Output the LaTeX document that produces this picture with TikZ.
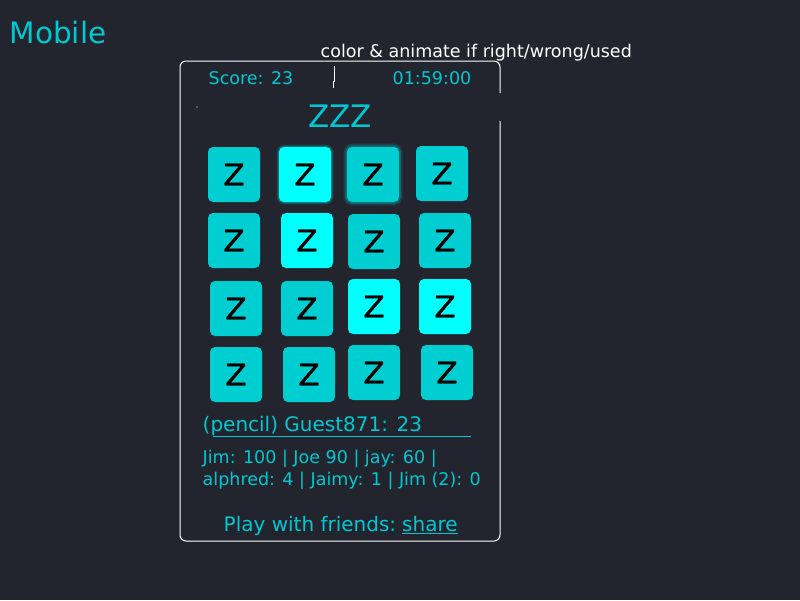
\documentclass[tikz,border=0pt]{standalone}
\usepackage{fontspec}
\setmainfont{DejaVu Sans}
\newfontfamily\tilefont[FakeBold=1,FakeStretch=1.06]{DejaVu Sans}
\definecolor{bgC}{HTML}{23252E}
\definecolor{txtC}{HTML}{00C8D2}
\definecolor{tileC}{HTML}{00CED1}
\definecolor{litC}{HTML}{00FFFF}
\definecolor{glowC}{HTML}{0A8F96}
\begin{document}
\begin{tikzpicture}[
  x=1pt,y=-1pt,
  tile/.style={rounded corners=5pt,fill=tileC,minimum width=52pt,minimum height=55pt,inner sep=0pt,text=black,font=\tilefont\fontsize{29.5}{30}\selectfont},
  lit/.style={tile,fill=litC},
  glow/.style={preaction={draw=#1,line width=7pt,draw opacity=0.25},preaction={draw=#1,line width=3.5pt,draw opacity=0.5}},
  halo/.style={preaction={draw=#1,line width=5pt,draw opacity=0.12},preaction={draw=#1,line width=2.5pt,draw opacity=0.25}},
  lbl/.style={inner sep=0pt,anchor=base west,text=txtC},
  every node/.style={font=\fontsize{17.5}{22}\selectfont}
]
% --- Background ---
\fill[bgC] (0,0) rectangle (800,600);

% --- Titles ---
\node[lbl,font=\fontsize{29.5}{30}\selectfont] (mobile) at (9.5,43.3) {Mobile};
\node[lbl,text=white] (note) at (320.5,57.5) {color \& animate if right/wrong/used};

% --- Phone frame (open on the right) ---
\draw[white,line width=1pt,rounded corners=6pt] (500,121) -- (500,541) -- (180,541) -- (180,61) -- (500,61) -- (500,93);
\draw[white,line width=1pt] (334.5,66) -- (334.5,81) -- (333.5,81) -- (333.5,88);
\fill[white] (197,107) circle (0.7);

% --- Header ---
\node[lbl] (score) at (208.5,84.3) {Score: 23};
\node[lbl] (clock) at (392.5,84.3) {01:59:00};
\node[inner sep=0pt,anchor=base,text=txtC,font=\fontsize{31}{31}\selectfont] (word) at (340,127) {ZZZ};

% --- Tiles ---
\node[tile]                (t11) at (234,174.5) {Z};
\node[lit,halo=litC]       (t12) at (305,174.5) {Z};
\node[tile,glow=glowC]     (t13) at (373,174.5) {Z};
\node[tile]                (t14) at (442,173.5) {Z};

\node[tile] (t21) at (234,240.5) {Z};
\node[lit]  (t22) at (307,240.5) {Z};
\node[tile] (t23) at (374,241.5) {Z};
\node[tile] (t24) at (445,240.5) {Z};

\node[tile] (t31) at (236,308.5) {Z};
\node[tile] (t32) at (307,308.5) {Z};
\node[lit]  (t33) at (374,306.5) {Z};
\node[lit]  (t34) at (445,306.5) {Z};

\node[tile] (t41) at (236,374.5) {Z};
\node[tile] (t42) at (309,374.5) {Z};
\node[tile] (t43) at (374,372.5) {Z};
\node[tile] (t44) at (447,372.5) {Z};

% --- Player and scores ---
\node[lbl,font=\fontsize{20}{20}\selectfont] (player) at (202.5,431) {(pencil) Guest871: 23};
\draw[txtC,line width=1pt] (213,436) -- (471,436);
\node[lbl] (board1) at (202.5,463.3) {Jim: 100 | Joe 90 | jay: 60 |};
\node[lbl] (board2) at (202.5,485.3) {alphred: 4 | Jaimy: 1 | Jim (2): 0};

% --- Share line ---
\node[lbl,font=\fontsize{20}{20}\selectfont] (play) at (223.5,531) {Play with friends:};
\node[lbl,font=\fontsize{20}{20}\selectfont] (share) at (402,531) {share};
\draw[txtC,line width=1pt] ([yshift=-2pt]share.base west) -- ([yshift=-2pt]share.base east);

\end{tikzpicture}
\end{document}
